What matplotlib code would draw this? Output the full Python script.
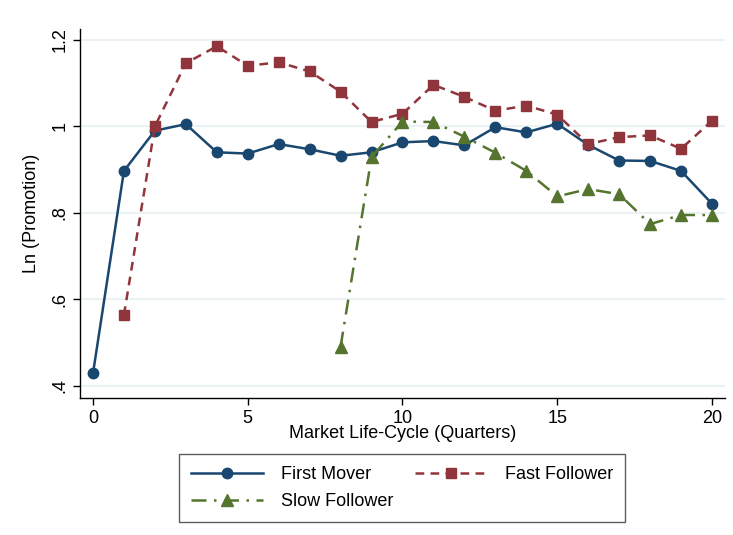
import numpy as np
import matplotlib
matplotlib.use("Agg")
import matplotlib.pyplot as plt

plt.rcParams['font.family'] = ['Liberation Sans', 'DejaVu Sans']

# Quarters of the market life-cycle
quarters = list(range(0, 21))

first_mover = [0.429, 0.897, 0.990, 1.005, 0.940, 0.937, 0.959, 0.947, 0.932, 0.940,
               0.963, 0.966, 0.956, 0.998, 0.986, 1.006, 0.957, 0.921, 0.920, 0.897, 0.821]

fast_x = list(range(1, 21))
fast_follower = [0.564, 1.000, 1.146, 1.185, 1.140, 1.148, 1.127, 1.080, 1.010, 1.029,
                 1.096, 1.068, 1.036, 1.048, 1.027, 0.959, 0.975, 0.979, 0.948, 1.013]

slow_x = list(range(8, 21))
slow_follower = [0.491, 0.929, 1.011, 1.010, 0.976, 0.939, 0.897, 0.838, 0.855, 0.843,
                 0.774, 0.795, 0.795]

yticks = [0.4, 0.6, 0.8, 1.0, 1.2]
ytick_labels = [".4", ".6", ".8", "1", "1.2"]
xticks = [0, 5, 10, 15, 20]

navy = "#1a476f"
maroon = "#90353b"
green = "#55752f"

fig = plt.figure(figsize=(7.33, 5.35), dpi=100)
ax = fig.add_axes([80 / 733, 1 - 398 / 535, 645 / 733, 369 / 535])

for y in yticks:
    ax.axhline(y, color="#eaf2f3", lw=1.5, zorder=0)

l1, = ax.plot(quarters, first_mover, color=navy, lw=1.8, marker="o", ms=7.5,
              label="First Mover", zorder=3)
l2, = ax.plot(fast_x, fast_follower, color=maroon, lw=1.8, marker="s", ms=7.5,
              dashes=(3.5, 2.5), label="Fast Follower", zorder=3)
l3, = ax.plot(slow_x, slow_follower, color=green, lw=1.8, marker="^", ms=8,
              dashes=(6, 3, 1, 3), label="Slow Follower", zorder=3)

ax.set_xlim(-0.42, 20.42)
ax.set_ylim(0.372, 1.225)
ax.set_xticks(xticks)
ax.set_yticks(yticks)
ax.set_yticklabels(ytick_labels, rotation=90, va="center")
ax.tick_params(axis="both", labelsize=13, length=5, width=1, color="black")

for side in ["top", "right"]:
    ax.spines[side].set_visible(False)
for side in ["left", "bottom"]:
    ax.spines[side].set_linewidth(1)

ax.set_xlabel("Market Life-Cycle (Quarters)", fontsize=13, labelpad=-1)
ax.set_ylabel("Ln (Promotion)", fontsize=13, labelpad=8)

# row-wise order like the original: First | Fast / Slow
leg = fig.legend([l1, l3, l2], ["First Mover", "Slow Follower", "Fast Follower"],
                 loc="center", bbox_to_anchor=(402 / 733, 1 - 488 / 535), ncol=2,
                 fontsize=13, handlelength=4.0, columnspacing=1.2, handletextpad=1.0,
                 frameon=True, fancybox=False, borderpad=0.65, labelspacing=0.55)
leg.get_frame().set_edgecolor("#333333")
leg.get_frame().set_linewidth(1)

fig.savefig("out.png", dpi=100, facecolor="white")
